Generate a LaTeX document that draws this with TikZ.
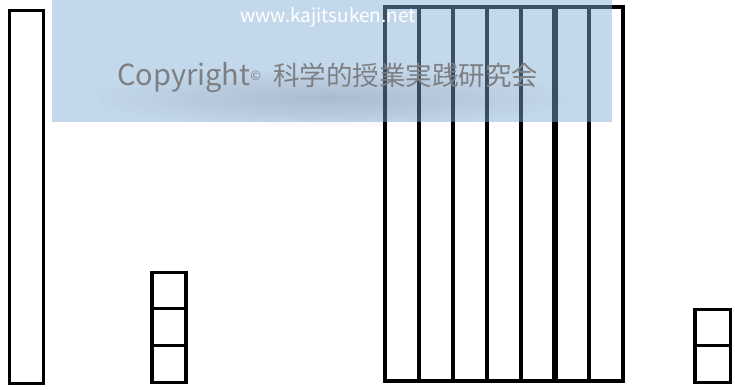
\documentclass[tikz,border=0pt]{standalone}
\usepackage{fontspec}
\usetikzlibrary{fadings}
\newfontfamily\jpfont{Noto Sans CJK JP}
\definecolor{wm}{RGB}{129,172,215}
\definecolor{wmtext}{RGB}{125,127,130}
\tikzfading[name=softglow, inner color=transparent!0, outer color=transparent!100]
\begin{document}
\begin{tikzpicture}[x=1pt,y=-1pt,
  box/.style={draw=black,line width=3.6pt},
  divline/.style={draw=black,line width=3.6pt},
  thickline/.style={draw=black,line width=6pt}]
\useasboundingbox (0,0) rectangle (735,390);
% left tall bar
\draw[box] (9.5,10.5) rectangle (43.5,383.5);
% three-cell stack
\draw[box] (151.8,272.5) rectangle (186.2,382.5);
\draw[divline] (151.8,308.5) -- (186.2,308.5);
\draw[divline] (151.8,345.5) -- (186.2,345.5);
% two-cell stack
\draw[box] (694.8,309.5) rectangle (730.5,382.5);
\draw[divline] (694.8,345.5) -- (730.5,345.5);
% big block of seven columns
\draw[box] (385,7) rectangle (623,381);
\foreach \xx in {419,453,487,521,589}
  \draw[divline] (\xx,7) -- (\xx,381);
\draw[thickline] (555,7) -- (555,381);
% watermark
\fill[wm,fill opacity=0.465] (52,0) rectangle (612,122);
\fill[black,fill opacity=0.13,path fading=softglow] (330,98) ellipse (250pt and 30pt);
\node[text=white,font=\jpfont\fontsize{19}{20}\selectfont,inner sep=0pt,anchor=base west] (url) at (240,23) {www.kajitsuken.net};
\node[text=wmtext,font=\jpfont\fontsize{26.5}{27}\selectfont,inner sep=0pt,anchor=base west] (copy) at (117,86) {{\fontsize{29}{30}\selectfont Copyright}\raisebox{0.35ex}{\fontsize{13}{13}\selectfont ©}\hspace{12pt}科学的授業実践研究会};
\end{tikzpicture}
\end{document}
